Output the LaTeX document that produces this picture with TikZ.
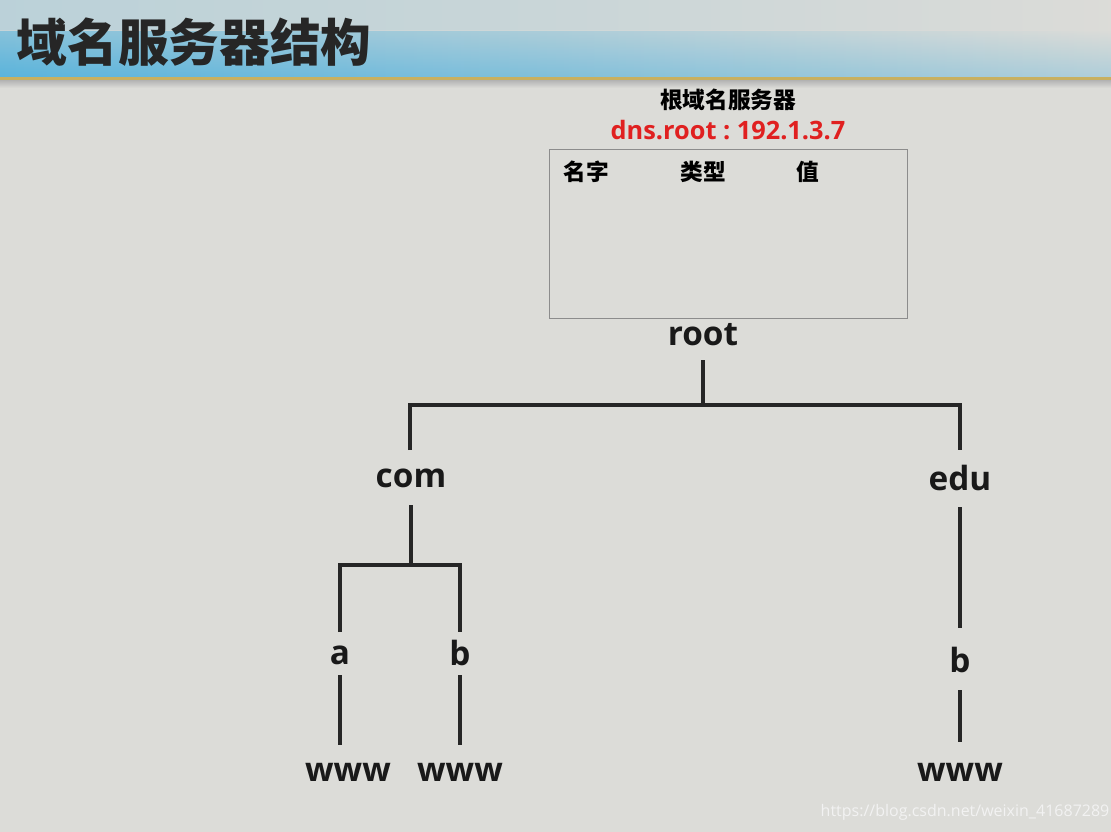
\documentclass[tikz,border=0pt]{standalone}
\usepackage{fontspec}
\setmainfont{Open Sans}
\newfontfamily\cjk{Noto Sans CJK SC}
\usetikzlibrary{calc}
\definecolor{bg}{HTML}{DCDCD8}
\definecolor{hdrblue}{HTML}{5AB4DC}
\definecolor{gold}{HTML}{C8B060}
\definecolor{dnsred}{HTML}{E02020}
\begin{document}
\begin{tikzpicture}[x=0.75pt,y=-0.75pt,
  lab/.style={font=\fontsize{25}{28}\selectfont\bfseries, text=black!90, inner sep=1pt},
  hd/.style={font=\cjk\fontsize{17}{20}\selectfont\bfseries, inner sep=1pt},
  br/.style={line width=3pt, draw=black!85}]
\useasboundingbox (0,0) rectangle (1111,832);
\fill[bg] (0,0) rectangle (1111,832);
\shade[left color=hdrblue, right color=bg, middle color=hdrblue!55!bg] (0,0) rectangle (1111,78);
\shade[top color=bg, bottom color=bg, opacity=0.75] (0,0) rectangle (1111,30);
\shade[top color=bg, bottom color=hdrblue, opacity=0.35] (0,30) rectangle (1111,78);
\fill[gold] (0,77) rectangle (1111,80);
\shade[top color=black!30, bottom color=bg] (0,80) rectangle (1111,88);
\node[font=\cjk\fontsize{38}{40}\selectfont\bfseries, anchor=west, text=black!85] (title) at (12,42) {域名服务器结构};
\node[hd] (rootname) at (728,100) {根域名服务器};
\node[font=\fontsize{19}{21}\selectfont\bfseries, text=dnsred] (dns) at (728,130) {dns.root\ :\ 192.1.3.7};
\node[draw=black!45, line width=0.8pt, minimum width=268.5pt, minimum height=126.75pt, anchor=north west] (box) at (549,149) {};
\node[hd] (h1) at (586,172) {名字};
\node[hd] (h2) at (703,172) {类型};
\node[hd] (h3) at (808,172) {值};
\node[lab] (root) at (703,335) {root};
\node[lab] (com) at (411,478) {com};
\node[lab] (edu) at (960,478) {edu};
\node[lab] (a) at (340,655) {a};
\node[lab] (b1) at (460,653) {b};
\node[lab] (b2) at (960,660) {b};
\node[lab] (w1) at (348,772) {www};
\node[lab] (w2) at (460,772) {www};
\node[lab] (w3) at (960,772) {www};
\coordinate (j1) at (703,405);
\coordinate (j2) at (411,565);
\draw[br] (703,360) -- (j1);
\draw[br] (410,450) -- (410,405) -- (960,405) -- (960,450);
\draw[br] (411,505) -- (j2);
\draw[br] (340,632) -- (340,565) -- (460,565) -- (460,632);
\draw[br] (340,675) -- (340,745);
\draw[br] (460,675) -- (460,745);
\draw[br] (960,507) -- (960,628);
\draw[br] (960,690) -- (960,742);
\node[font=\fontsize{12}{14}\selectfont, text=white!90!gray] (wm) at (965,812) {https://blog.csdn.net/weixin\_41687289};
\end{tikzpicture}
\end{document}
